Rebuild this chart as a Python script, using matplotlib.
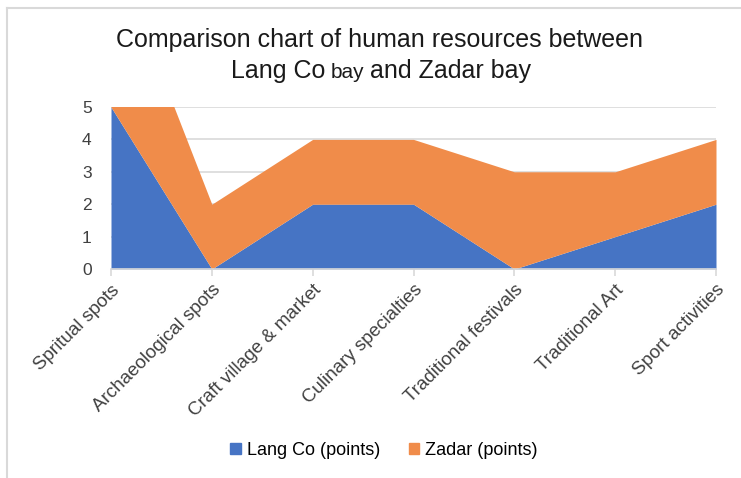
import matplotlib.pyplot as plt
from matplotlib.lines import Line2D
from matplotlib.patches import Patch
from matplotlib.offsetbox import TextArea, HPacker, AnchoredOffsetbox

plt.rcParams['font.family'] = ['Liberation Sans', 'DejaVu Sans']

# categorie e punteggi
categories = ['Spritual spots', 'Archaeological spots', 'Craft village & market',
              'Culinary specialties', 'Traditional festivals', 'Traditional Art',
              'Sport activities']
lang_co = [5, 0, 2, 2, 0, 1, 2]
zadar = [5, 2, 2, 2, 3, 2, 2]

blue = '#4674C4'
orange = '#F08C4A'
grid_col = '#D9D9D9'
txt_col = '#404040'

fig = plt.figure(figsize=(7.41, 4.78), dpi=100)
ax = fig.add_axes([111 / 741, 1 - 269 / 478, 605 / 741, 162 / 478])

x = list(range(len(categories)))
total = [a + b for a, b in zip(lang_co, zadar)]
ax.fill_between(x, 0, lang_co, color=blue, linewidth=0)
ax.fill_between(x, lang_co, total, color=orange, linewidth=0)

ax.set_xlim(0, len(categories) - 1)
ax.set_ylim(0, 5)
ax.set_yticks(range(6))
ax.set_xticks(x)
ax.set_xticklabels(categories, rotation=45, ha='right', rotation_mode='anchor',
                   fontsize=13.5, color=txt_col)
ax.tick_params(axis='y', length=0, labelsize=12.5, labelcolor=txt_col, pad=14)
ax.tick_params(axis='x', length=5, color=grid_col, width=1.2, pad=4)

ax.grid(axis='y', color=grid_col, linewidth=1.2)
ax.set_axisbelow(True)
for s in ['top', 'right', 'left']:
    ax.spines[s].set_visible(False)
ax.spines['bottom'].set_color(grid_col)
ax.spines['bottom'].set_linewidth(1.2)

# titolo (il primo "bay" e' piu' piccolo)
fig.text(0.512, 0.916, 'Comparison chart of human resources between',
         ha='center', va='center', fontsize=18, color='#1a1a1a')
parts = [TextArea('Lang Co', textprops=dict(fontsize=18, color='#1a1a1a')),
         TextArea('bay', textprops=dict(fontsize=15, color='#1a1a1a')),
         TextArea('and Zadar bay', textprops=dict(fontsize=18, color='#1a1a1a'))]
line2 = HPacker(children=parts, align='baseline', pad=0, sep=4)
fig.add_artist(AnchoredOffsetbox(loc='center', child=line2, pad=0, frameon=False,
                                 bbox_to_anchor=(0.514, 0.852),
                                 bbox_transform=fig.transFigure, borderpad=0))

# legenda
handles = [Patch(color=blue, label='Lang Co (points)'),
           Patch(color=orange, label='Zadar (points)')]
fig.legend(handles=handles, loc='center', bbox_to_anchor=(0.518, 0.058), ncol=2,
           frameon=False, fontsize=13, handlelength=0.6, handleheight=0.6,
           handletextpad=0.3, columnspacing=1.6)

# bordo
fig.add_artist(Line2D([7 / 741, 1], [1 - 8 / 478, 1 - 8 / 478], color=grid_col, lw=1.5))
fig.add_artist(Line2D([7 / 741, 7 / 741], [0, 1 - 8 / 478], color=grid_col, lw=1.5))

fig.savefig('out.png', dpi=100)
